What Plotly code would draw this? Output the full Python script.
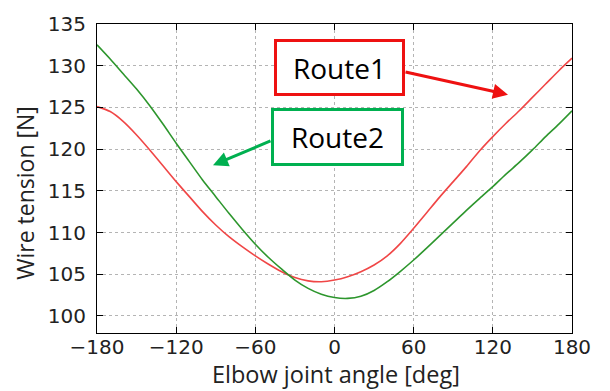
import plotly.graph_objects as go

# ---- data ----
angle = [-180, -170, -160, -150, -140, -130, -120, -110, -100, -90, -80, -70, -60, -50, -40, -30, -20, -10, 0,
         10, 20, 30, 40, 50, 60, 70, 80, 90, 100, 110, 120, 130, 140, 150, 160, 170, 180]
tension_route1 = [125.1, 124.5, 123.3, 121.7, 119.9, 118.0, 116.1, 114.3, 112.5, 110.9, 109.5, 108.3, 107.2, 106.2, 105.3, 104.6, 104.2, 104.1, 104.3,
                  104.7, 105.3, 106.1, 107.2, 108.7, 110.5, 112.4, 114.3, 116.1, 117.9, 119.8, 121.5, 123.1, 124.6, 126.2, 127.8, 129.4, 130.9]
tension_route2 = [132.5, 130.8, 129.0, 127.2, 125.2, 123.0, 120.7, 118.5, 116.3, 114.3, 112.3, 110.4, 108.6, 107.0, 105.6, 104.3, 103.3, 102.6, 102.2,
                  102.1, 102.35, 103.05, 104.1, 105.35, 106.7, 108.15, 109.65, 111.15, 112.65, 114.1, 115.5, 117.0, 118.4, 119.9, 121.5, 123.0, 124.6]

x_ticks = [-180, -120, -60, 0, 60, 120, 180]
x_ticktext = ["\u2212180", "\u2212120", "\u221260", "0", "60", "120", "180"]
y_ticks = [100, 105, 110, 115, 120, 125, 130, 135]

series_names = ["Route1", "Route2"]

# ---- figure ----
W, H = 610, 391
ML, MR, MT, MB = 97, 38, 18, 58
PW = W - ML - MR
PH = H - MT - MB

def px_to_paper(px, py):
    return (px - ML) / PW, (H - MB - py) / PH

fig = go.Figure()
fig.add_trace(go.Scatter(x=angle, y=tension_route1, mode="lines", name=series_names[0],
                         line=dict(color="rgb(240,70,70)", width=1.6, shape="spline", smoothing=0.8)))
fig.add_trace(go.Scatter(x=angle, y=tension_route2, mode="lines", name=series_names[1],
                         line=dict(color="rgb(45,150,45)", width=1.6, shape="spline", smoothing=0.8)))

axis_common = dict(showline=True, linecolor="black", linewidth=1.2, mirror="ticks",
                   ticks="inside", ticklen=6, tickcolor="black", tickwidth=1,
                   showgrid=True, gridcolor="#b4b4b4", griddash="dot", gridwidth=1,
                   zeroline=False,
                   tickfont=dict(family="DejaVu Sans", size=20, color="#222222"))

fig.update_layout(
    width=W, height=H,
    margin=dict(l=ML, r=MR, t=MT, b=MB),
    paper_bgcolor="white", plot_bgcolor="white",
    showlegend=False,
    xaxis=dict(range=[-180, 180], tickvals=x_ticks, ticktext=x_ticktext, ticklabelstandoff=-4, **axis_common),
    yaxis=dict(range=[97.95, 135], tickvals=y_ticks, ticklabelstandoff=6, **axis_common),
)

annotations = []
# axis titles
tx, ty = px_to_paper(336, 375)
annotations.append(dict(text="Elbow joint angle [deg]", xref="paper", yref="paper", x=tx, y=ty,
                        xanchor="center", yanchor="middle", showarrow=False,
                        font=dict(family="Open Sans", size=23.5, color="#222222")))
tx, ty = px_to_paper(25, 190)
annotations.append(dict(text="Wire tension [N]", xref="paper", yref="paper", x=tx, y=ty,
                        xanchor="center", yanchor="middle", showarrow=False, textangle=-90,
                        font=dict(family="Open Sans", size=23, color="#222222")))

# arrows
red_c, green_c = "#ee1111", "#00b050"
tx, ty = px_to_paper(508, 90)
annotations.append(dict(text="", xref="paper", yref="paper", x=tx, y=ty, ax=404 - 508, ay=67 - 90,
                        showarrow=True, arrowhead=2, arrowsize=1.0, arrowwidth=3, arrowcolor=red_c))
tx, ty = px_to_paper(213, 162)
annotations.append(dict(text="", xref="paper", yref="paper", x=tx, y=ty, ax=272 - 213, ay=137 - 162,
                        showarrow=True, arrowhead=2, arrowsize=1.0, arrowwidth=3, arrowcolor=green_c))

# boxes
tx, ty = px_to_paper(339.5, 62.5)
annotations.append(dict(text=series_names[0], xref="paper", yref="paper", x=tx, y=ty,
                        xanchor="center", yanchor="middle", showarrow=False,
                        width=125, height=51, borderpad=0, borderwidth=3, bordercolor=red_c, bgcolor="white",
                        font=dict(family="Open Sans", size=28, color="black")))
tx, ty = px_to_paper(337.5, 133.5)
annotations.append(dict(text=series_names[1], xref="paper", yref="paper", x=tx, y=ty,
                        xanchor="center", yanchor="middle", showarrow=False,
                        width=127, height=52, borderpad=0, borderwidth=3, bordercolor=green_c, bgcolor="white",
                        font=dict(family="Open Sans", size=28, color="black")))

fig.update_layout(annotations=annotations)
fig.write_html("out.html", config={"displayModeBar": False},
               post_script="document.body.style.margin='0px';document.body.style.overflow='hidden';")
